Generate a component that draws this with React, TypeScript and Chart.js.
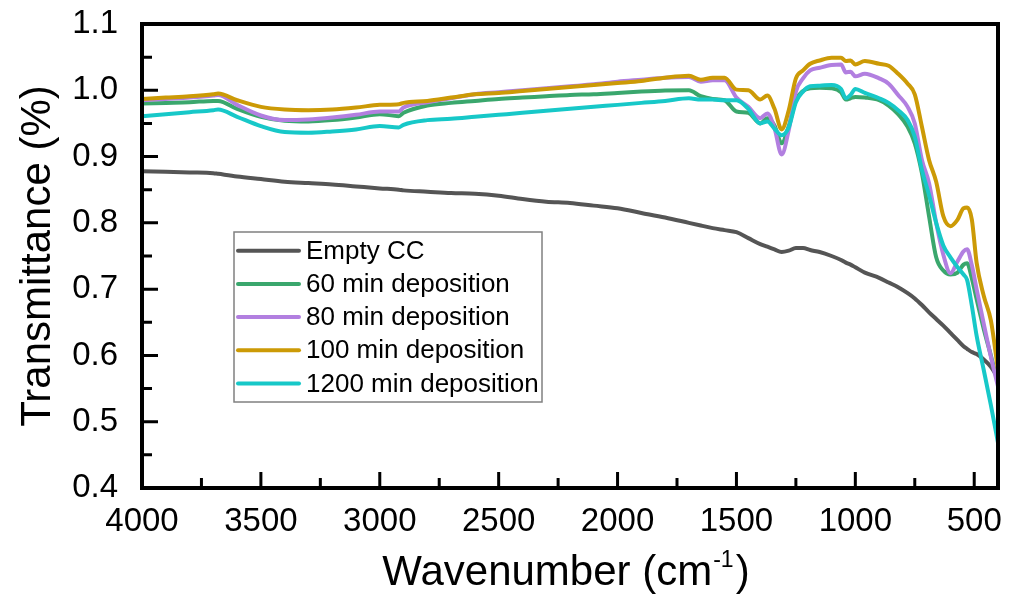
import React, { useEffect, useRef } from 'react';
import { Chart, registerables } from 'chart.js';

Chart.register(...registerables);

const FONT = '"Liberation Sans", Arial, "DejaVu Sans", sans-serif';

// Wavenumber grid (cm-1)
const wavenumbers = [
  4000, 3900, 3800, 3700, 3680, 3600, 3500, 3400, 3300, 3200,
  3100, 3000, 2920, 2900, 2800, 2700, 2600, 2500, 2400, 2300,
  2200, 2100, 2000, 1900, 1800, 1700, 1650, 1600, 1550, 1500,
  1450, 1400, 1370, 1340, 1310, 1280, 1250, 1220, 1190, 1150,
  1100, 1060, 1040, 1020, 1000, 960, 900, 860, 820, 780,
  750, 720, 690, 660, 630, 600, 570, 545, 530, 510,
  490, 460, 430, 400,
];

const emptyCC = [
  0.878, 0.877, 0.876, 0.875, 0.874, 0.870, 0.866, 0.862, 0.860, 0.858,
  0.855, 0.852, 0.850, 0.849, 0.847, 0.845, 0.844, 0.841, 0.836, 0.832,
  0.830, 0.826, 0.822, 0.815, 0.808, 0.800, 0.796, 0.792, 0.789, 0.786,
  0.777, 0.768, 0.764, 0.760, 0.756, 0.758, 0.762, 0.762, 0.759, 0.756,
  0.750, 0.744, 0.740, 0.737, 0.733, 0.725, 0.717, 0.710, 0.703, 0.694,
  0.686, 0.676, 0.665, 0.655, 0.645, 0.634, 0.623, 0.614, 0.610, 0.605,
  0.602, 0.594, 0.583, 0.566,
];

const dep60 = [
  0.980, 0.981, 0.982, 0.984, 0.984, 0.972, 0.960, 0.954, 0.953, 0.955,
  0.959, 0.964, 0.961, 0.966, 0.977, 0.981, 0.984, 0.987, 0.989, 0.991,
  0.993, 0.994, 0.996, 0.998, 0.9995, 1.000, 0.991, 0.987, 0.985, 0.968,
  0.966, 0.950, 0.958, 0.947, 0.920, 0.946, 0.985, 0.999, 1.003, 1.004,
  1.003, 0.997, 0.986, 0.988, 0.990, 0.989, 0.985, 0.977, 0.964, 0.945,
  0.920, 0.875, 0.810, 0.748, 0.728, 0.722, 0.725, 0.737, 0.739, 0.716,
  0.685, 0.640, 0.600, 0.558,
];

const dep80 = [
  0.985, 0.987, 0.989, 0.992, 0.993, 0.978, 0.962, 0.955, 0.956, 0.959,
  0.963, 0.968, 0.968, 0.974, 0.982, 0.988, 0.994, 0.997, 1.000, 1.003,
  1.006, 1.009, 1.013, 1.016, 1.019, 1.020, 1.013, 1.015, 1.015, 0.989,
  0.975, 0.958, 0.965, 0.943, 0.903, 0.940, 0.998, 1.018, 1.030, 1.034,
  1.038, 1.039, 1.027, 1.028, 1.021, 1.025, 1.018, 1.010, 0.993, 0.975,
  0.950, 0.895, 0.860, 0.800, 0.752, 0.724, 0.742, 0.757, 0.760, 0.736,
  0.700, 0.648, 0.598, 0.553,
];

const dep100 = [
  0.987, 0.989, 0.991, 0.994, 0.995, 0.985, 0.975, 0.971, 0.970, 0.971,
  0.974, 0.978, 0.979, 0.981, 0.984, 0.989, 0.994, 0.996, 0.999, 1.002,
  1.005, 1.008, 1.011, 1.014, 1.019, 1.022, 1.016, 1.019, 1.019, 1.001,
  1.000, 0.986, 0.992, 0.972, 0.941, 0.970, 1.018, 1.030, 1.040, 1.045,
  1.049, 1.049, 1.044, 1.045, 1.039, 1.044, 1.040, 1.037, 1.025, 1.010,
  0.994, 0.945, 0.895, 0.862, 0.810, 0.795, 0.805, 0.822, 0.823, 0.805,
  0.740, 0.690, 0.653, 0.578,
];

const dep1200 = [
  0.961, 0.964, 0.967, 0.970, 0.971, 0.960, 0.946, 0.937, 0.936, 0.938,
  0.941, 0.946, 0.944, 0.948, 0.955, 0.957, 0.960, 0.963, 0.966, 0.969,
  0.972, 0.975, 0.978, 0.981, 0.984, 0.988, 0.986, 0.986, 0.985, 0.985,
  0.972, 0.950, 0.953, 0.942, 0.932, 0.944, 0.982, 0.998, 1.006, 1.007,
  1.008, 1.002, 0.988, 0.993, 1.002, 0.996, 0.988, 0.981, 0.970, 0.955,
  0.930, 0.880, 0.842, 0.800, 0.766, 0.748, 0.733, 0.722, 0.714, 0.675,
  0.630, 0.578, 0.525, 0.468,
];

const seriesLabels = ['Empty CC', '60 min deposition', '80 min deposition', '100 min deposition', '1200 min deposition'];
const seriesValues = [emptyCC, dep60, dep80, dep100, dep1200];
const seriesColors = ['#555555', '#3aa76d', '#b27fe0', '#cc9a06', '#17c8c8'];

const xMajorTicks = [4000, 3500, 3000, 2500, 2000, 1500, 1000, 500];
const xMinorTicks = [3750, 3250, 2750, 2250, 1750, 1250, 750];
const yMajorTicks = [0.4, 0.5, 0.6, 0.7, 0.8, 0.9, 1.0, 1.1];
const yMinorTicks = [0.45, 0.55, 0.65, 0.75, 0.85, 0.95, 1.05];

const xTitleMain = 'Wavenumber (cm';
const xTitleSup = '-1';
const xTitleEnd = ')';

const frameTicksPlugin = {
  id: 'frameTicks',
  afterDatasetsDraw(chart: any) {
    const { ctx, chartArea } = chart;
    const { left, right, top, bottom } = chartArea;
    const xs = chart.scales.x;
    const ys = chart.scales.y;
    ctx.save();
    ctx.strokeStyle = '#000';
    ctx.lineWidth = 3;
    ctx.lineCap = 'butt';
    ctx.beginPath();
    xMajorTicks.forEach((v) => {
      const p = xs.getPixelForValue(v);
      ctx.moveTo(p, bottom);
      ctx.lineTo(p, bottom - 16);
    });
    xMinorTicks.forEach((v) => {
      const p = xs.getPixelForValue(v);
      ctx.moveTo(p, bottom);
      ctx.lineTo(p, bottom - 10);
    });
    yMajorTicks.forEach((v) => {
      const p = ys.getPixelForValue(v);
      ctx.moveTo(left, p);
      ctx.lineTo(left + 16, p);
    });
    yMinorTicks.forEach((v) => {
      const p = ys.getPixelForValue(v);
      ctx.moveTo(left, p);
      ctx.lineTo(left + 10, p);
    });
    ctx.stroke();
    ctx.lineWidth = 4;
    ctx.strokeRect(left, top, right - left, bottom - top);
    ctx.restore();
  },
};

const xTitlePlugin = {
  id: 'xTitle',
  afterDraw(chart: any) {
    const { ctx, chartArea } = chart;
    const cx = (chartArea.left + chartArea.right) / 2 - 4;
    const baseline = 585;
    ctx.save();
    ctx.fillStyle = '#000';
    ctx.textAlign = 'left';
    ctx.textBaseline = 'alphabetic';
    const mainFont = `42px ${FONT}`;
    const supFont = `23px ${FONT}`;
    ctx.font = mainFont;
    const wMain = ctx.measureText(xTitleMain).width;
    const wEnd = ctx.measureText(xTitleEnd).width;
    ctx.font = supFont;
    const wSup = ctx.measureText(xTitleSup).width;
    const total = wMain + 1 + wSup + 2 + wEnd;
    let x = cx - total / 2;
    ctx.font = mainFont;
    ctx.fillText(xTitleMain, x, baseline);
    x += wMain + 1;
    ctx.font = supFont;
    ctx.fillText(xTitleSup, x, baseline - 18);
    x += wSup + 2;
    ctx.font = mainFont;
    ctx.fillText(xTitleEnd, x, baseline);
    ctx.restore();
  },
};

const legendPlugin = {
  id: 'insideLegend',
  afterDraw(chart: any) {
    const { ctx } = chart;
    const bx = 234;
    const by = 232;
    const bw = 308;
    const bh = 170;
    ctx.save();
    ctx.fillStyle = '#ffffff';
    ctx.fillRect(bx, by, bw, bh);
    ctx.strokeStyle = '#808080';
    ctx.lineWidth = 1.5;
    ctx.strokeRect(bx, by, bw, bh);
    ctx.font = `26px ${FONT}`;
    ctx.textBaseline = 'middle';
    ctx.textAlign = 'left';
    chart.data.datasets.forEach((ds: any, i: number) => {
      const cy = by + 18.7 + i * 33.2;
      ctx.strokeStyle = ds.borderColor;
      ctx.lineWidth = 4;
      ctx.lineCap = 'round';
      ctx.beginPath();
      ctx.moveTo(bx + 4, cy);
      ctx.lineTo(bx + 65, cy);
      ctx.stroke();
      ctx.fillStyle = '#000';
      ctx.fillText(ds.label, bx + 72, cy + 1);
    });
    ctx.restore();
  },
};

export default function App() {
  const ref = useRef<HTMLCanvasElement>(null);

  useEffect(() => {
    const canvas = ref.current;
    if (!canvas) return;
    const datasets = seriesLabels.map((label, i) => ({
      label,
      data: wavenumbers.map((w, j) => ({ x: w, y: seriesValues[i][j] })),
      borderColor: seriesColors[i],
      backgroundColor: seriesColors[i],
      borderWidth: 4,
      pointRadius: 0,
      fill: false,
      cubicInterpolationMode: 'monotone' as const,
      order: seriesLabels.length - i,
    }));
    const chart = new Chart(canvas, {
      type: 'line',
      data: { datasets },
      options: {
        animation: false,
        responsive: false,
        devicePixelRatio: 1,
        layout: { padding: { top: 24, right: 19, left: 0, bottom: 0 } },
        plugins: {
          legend: { display: false },
          tooltip: { enabled: false },
        },
        scales: {
          x: {
            type: 'linear',
            reverse: true,
            min: 400,
            max: 4000,
            afterBuildTicks: (scale: any) => {
              scale.ticks = xMajorTicks.map((v) => ({ value: v }));
            },
            afterFit: (scale: any) => {
              scale.height = 111;
              scale.paddingLeft = 0;
              scale.paddingRight = 0;
            },
            grid: { display: false, drawTicks: false },
            border: { display: false },
            ticks: {
              autoSkip: false,
              maxRotation: 0,
              padding: 14,
              color: '#000',
              font: { family: FONT, size: 33 },
              callback: (v: any) => String(v),
            },
            title: { display: false },
          },
          y: {
            type: 'linear',
            min: 0.4,
            max: 1.1,
            afterBuildTicks: (scale: any) => {
              scale.ticks = yMajorTicks.map((v) => ({ value: v }));
            },
            afterFit: (scale: any) => {
              scale.width = 142;
              scale.paddingTop = 0;
              scale.paddingBottom = 0;
            },
            grid: { display: false, drawTicks: false },
            border: { display: false },
            ticks: {
              autoSkip: false,
              padding: 24,
              color: '#000',
              font: { family: FONT, size: 33 },
              callback: (v: any) => Number(v).toFixed(1),
            },
            title: {
              display: true,
              text: 'Transmittance (%)',
              color: '#000',
              font: { family: FONT, size: 42 },
              padding: { top: 13, bottom: 0 },
            },
          },
        },
      },
      plugins: [frameTicksPlugin, legendPlugin, xTitlePlugin],
    });
    return () => chart.destroy();
  }, []);

  return (
    <div style={{ position: 'absolute', left: 0, top: 0, width: 1017, height: 599, background: '#fff' }}>
      <canvas ref={ref} width={1017} height={599} style={{ display: 'block' }} />
    </div>
  );
}
